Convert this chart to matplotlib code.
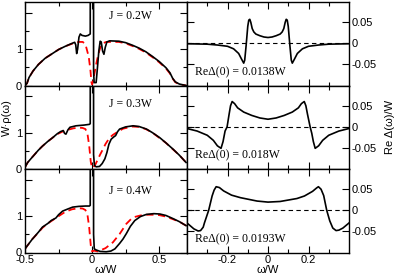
import matplotlib
matplotlib.use("Agg")
import matplotlib.pyplot as plt
from matplotlib.ticker import FixedLocator

plt.rcParams["font.family"] = ["Liberation Sans", "DejaVu Sans"]
plt.rcParams["font.size"] = 8

# ---- left column: W*rho(omega), black = full, red dashed = reference ----
w_a_k = [-0.5, -0.485, -0.47, -0.44, -0.4, -0.35, -0.3, -0.25, -0.2, -0.15, -0.13, -0.122, -0.115,
         -0.108, -0.098, -0.088, -0.075, -0.05, -0.03, -0.014, -0.008, 0.008, 0.011, 0.015, 0.03,
         0.04, 0.05, 0.06, 0.068, 0.078, 0.088, 0.098, 0.11, 0.13, 0.2, 0.25, 0.3, 0.35, 0.4, 0.45,
         0.5, 0.55, 0.58, 0.6, 0.62, 0.65, 0.7]
rho_a_k = [0.0, 0.06, 0.22, 0.4, 0.58, 0.75, 0.87, 0.99, 1.08, 1.16, 1.19, 1.12, 0.88,
           1.0, 1.33, 1.42, 1.38, 1.36, 1.38, 1.42, 30, 30, 0.4, 0.08, 0.08,
           0.5, 0.95, 1.22, 1.2, 0.95, 0.86, 1.05, 1.2, 1.23, 1.22, 1.18, 1.11, 1.03, 0.93, 0.8,
           0.66, 0.49, 0.35, 0.2, 0.1, 0.04, 0.0]
w_a_r = [-0.5, -0.485, -0.47, -0.44, -0.4, -0.35, -0.3, -0.25, -0.2, -0.15, -0.1, -0.07, -0.05,
         -0.04, -0.025, -0.012, -0.005, 0.0, 0.005, 0.017, 0.03, 0.042, 0.055, 0.067, 0.085, 0.105,
         0.15, 0.2, 0.25, 0.3, 0.35, 0.4, 0.45, 0.5, 0.55, 0.58, 0.6, 0.62, 0.65, 0.7]
rho_a_r = [0.0, 0.06, 0.22, 0.4, 0.58, 0.75, 0.87, 0.99, 1.08, 1.15, 1.2, 1.2, 1.14,
           1.0, 0.79, 0.4, 0.09, 0.03, 0.08, 0.32, 0.58, 0.79, 0.97, 1.11, 1.17, 1.2,
           1.2, 1.2, 1.16, 1.09, 1.01, 0.91, 0.78, 0.64, 0.47, 0.33, 0.19, 0.09, 0.03, 0.0]

w_b_k = [-0.5, -0.48, -0.445, -0.4, -0.37, -0.33, -0.295, -0.26, -0.235, -0.215, -0.205, -0.195,
         -0.18, -0.165, -0.12, -0.06, -0.02, -0.014, -0.008, 0.008, 0.011, 0.017, 0.03, 0.055, 0.075,
         0.095, 0.11, 0.125, 0.142, 0.16, 0.175, 0.19, 0.205, 0.25, 0.305, 0.35, 0.405, 0.45, 0.505,
         0.55, 0.605, 0.65, 0.7]
rho_b_k = [0.05, 0.18, 0.33, 0.52, 0.63, 0.76, 0.86, 0.97, 1.03, 1.06, 0.98, 0.96,
           1.08, 1.15, 1.19, 1.21, 1.23, 1.25, 30, 30, 0.4, 0.1, 0.06, 0.07, 0.15,
           0.28, 0.45, 0.68, 0.82, 0.88, 0.92, 1.03, 1.1, 1.16, 1.19, 1.17, 1.1, 1.0, 0.86,
           0.72, 0.54, 0.38, 0.18]
w_b_r = [-0.5, -0.48, -0.445, -0.4, -0.37, -0.33, -0.295, -0.26, -0.22, -0.18, -0.14, -0.1, -0.07,
         -0.05, -0.035, -0.022, -0.01, 0.0, 0.01, 0.025, 0.042, 0.06, 0.08, 0.1, 0.13, 0.155, 0.18,
         0.23, 0.3, 0.35, 0.4, 0.45, 0.5, 0.55, 0.6, 0.65, 0.7]
rho_b_r = [0.05, 0.18, 0.33, 0.52, 0.63, 0.76, 0.86, 0.96, 1.03, 1.08, 1.12, 1.14, 1.13,
           1.1, 0.98, 0.65, 0.2, 0.03, 0.05, 0.13, 0.26, 0.4, 0.54, 0.69, 0.86, 0.94, 1.0,
           1.11, 1.17, 1.16, 1.1, 1.0, 0.86, 0.72, 0.55, 0.38, 0.18]

w_c_k = [-0.5, -0.48, -0.445, -0.4, -0.37, -0.33, -0.305, -0.285, -0.27, -0.25, -0.22, -0.18,
         -0.145, -0.1, -0.05, -0.02, -0.014, -0.008, 0.008, 0.011, 0.016, 0.03, 0.06, 0.105, 0.14,
         0.17, 0.205, 0.23, 0.255, 0.285, 0.318, 0.36, 0.405, 0.46, 0.505, 0.55, 0.605, 0.65, 0.7]
rho_c_k = [0.1, 0.2, 0.37, 0.56, 0.7, 0.8, 0.88, 0.92, 0.95, 1.04, 1.14, 1.2,
           1.25, 1.27, 1.28, 1.28, 1.3, 30, 30, 0.5, 0.1, 0.07, 0.03, 0.02, 0.04,
           0.1, 0.25, 0.37, 0.52, 0.72, 0.88, 0.99, 1.05, 1.07, 1.06, 1.02, 0.93, 0.85, 0.74]
w_c_r = [-0.5, -0.48, -0.445, -0.4, -0.37, -0.33, -0.29, -0.25, -0.2, -0.15, -0.1, -0.07, -0.05,
         -0.035, -0.022, -0.01, 0.0, 0.015, 0.04, 0.055, 0.1, 0.155, 0.205, 0.255, 0.29, 0.318,
         0.36, 0.4, 0.455, 0.5, 0.55, 0.6, 0.65, 0.7]
rho_c_r = [0.1, 0.2, 0.37, 0.55, 0.68, 0.8, 0.9, 1.0, 1.12, 1.19, 1.22, 1.21, 1.17,
           1.05, 0.7, 0.2, 0.03, 0.05, 0.03, 0.05, 0.12, 0.28, 0.51, 0.79, 0.92, 0.98,
           1.02, 1.04, 1.04, 1.03, 0.99, 0.92, 0.85, 0.74]

# ---- right column: Re Delta(omega)/W ----
w_a_d = [-0.4, -0.3, -0.25, -0.2, -0.17, -0.145, -0.13, -0.12, -0.115, -0.108, -0.1, -0.095,
         -0.09, -0.085, -0.078, -0.07, -0.06, -0.04, -0.02, 0.0, 0.02, 0.04, 0.06, 0.07, 0.078,
         0.085, 0.09, 0.095, 0.1, 0.108, 0.115, 0.12, 0.13, 0.145, 0.17, 0.2, 0.25, 0.3, 0.4]
d_a = [-0.001, -0.002, -0.004, -0.007, -0.013, -0.024, -0.038, -0.047, -0.04, -0.005, 0.04, 0.055,
       0.057, 0.05, 0.035, 0.027, 0.022, 0.018, 0.015, 0.0138, 0.015, 0.018, 0.022, 0.027, 0.035,
       0.05, 0.057, 0.055, 0.04, -0.005, -0.04, -0.047, -0.038, -0.024, -0.013, -0.007, -0.004,
       -0.002, -0.001]

w_b_d = [-0.4, -0.35, -0.3, -0.27, -0.25, -0.232, -0.222, -0.212, -0.202, -0.192, -0.185, -0.177,
         -0.165, -0.15, -0.12, -0.08, -0.04, 0.0, 0.04, 0.08, 0.12, 0.15, 0.165, 0.179, 0.187,
         0.195, 0.208, 0.216, 0.224, 0.233, 0.25, 0.27, 0.3, 0.35, 0.4]
d_b = [-0.004, -0.01, -0.02, -0.032, -0.045, -0.051, -0.035, -0.01, 0.0, 0.03, 0.05, 0.06,
       0.055, 0.045, 0.035, 0.027, 0.021, 0.018, 0.021, 0.027, 0.035, 0.045, 0.055, 0.06, 0.05,
       0.03, 0.0, -0.015, -0.035, -0.051, -0.045, -0.032, -0.02, -0.01, -0.004]

w_c_d = [-0.4, -0.366, -0.345, -0.333, -0.32, -0.314, -0.293, -0.276, -0.266, -0.256, -0.24,
         -0.219, -0.18, -0.136, -0.054, 0.0, 0.06, 0.143, 0.18, 0.22, 0.24, 0.249, 0.262, 0.275,
         0.29, 0.305, 0.32, 0.336, 0.35, 0.37, 0.4]
d_c = [-0.03, -0.044, -0.049, -0.048, -0.04, -0.03, 0.0, 0.034, 0.048, 0.056, 0.054,
       0.046, 0.036, 0.03, 0.022, 0.0195, 0.021, 0.028, 0.034, 0.045, 0.053, 0.056, 0.05, 0.035,
       0.0, -0.025, -0.042, -0.048, -0.047, -0.042, -0.03]

j_labels = ["J = 0.2W", "J = 0.3W", "J = 0.4W"]
d0_labels = ["ReΔ(0) = 0.0138W", "ReΔ(0) = 0.018W", "ReΔ(0) = 0.0193W"]
j_label_y = [0.835, 0.78, 0.735]

dos_rows = [(w_a_k, rho_a_k, w_a_r, rho_a_r),
            (w_b_k, rho_b_k, w_b_r, rho_b_r),
            (w_c_k, rho_c_k, w_c_r, rho_c_r)]
delta_rows = [(w_a_d, d_a), (w_b_d, d_b), (w_c_d, d_c)]

fig = plt.figure(figsize=(3.99, 2.78), dpi=100)
W, H = 399.0, 278.0
row_top = [2.0, 85.5, 169.0]
row_h = 83.5
serif = ["Liberation Serif", "DejaVu Serif"]

for i in range(3):
    y0 = 1 - (row_top[i] + row_h) / H
    axl = fig.add_axes([25 / W, y0, 162 / W, row_h / H])
    axr = fig.add_axes([187 / W, y0, 162 / W, row_h / H])

    wk, rk, wr, rr = dos_rows[i]
    axl.plot(wr, rr, color="red", lw=1.3, dashes=(4, 2.5))
    axl.plot(wk, rk, color="black", lw=1.2)
    axl.set_xlim(-0.5, 0.707)
    axl.set_ylim(0, 2.3)
    axl.xaxis.set_major_locator(FixedLocator([-0.5, 0, 0.5]))
    axl.xaxis.set_minor_locator(FixedLocator([-0.25, 0.25]))
    axl.yaxis.set_major_locator(FixedLocator([0, 1, 2]))
    axl.yaxis.set_minor_locator(FixedLocator([0.5, 1.5]))
    axl.set_yticklabels(["0", "1", ""])
    axl.text(0.65, j_label_y[i], j_labels[i], transform=axl.transAxes,
             ha="center", va="center", fontsize=8.5, family=serif)

    wd, dd = delta_rows[i]
    axr.axhline(0, color="black", lw=0.8, dashes=(4, 3))
    axr.plot(wd, dd, color="black", lw=1.2)
    axr.set_xlim(-0.4, 0.4)
    axr.set_ylim(-0.1, 0.098)
    axr.xaxis.set_major_locator(FixedLocator([-0.2, 0, 0.2]))
    axr.xaxis.set_minor_locator(FixedLocator([-0.3, -0.1, 0.1, 0.3]))
    axr.yaxis.set_major_locator(FixedLocator([-0.05, 0, 0.05]))
    axr.yaxis.tick_right()
    axr.set_yticklabels(["-0.05", "0", "0.05"])
    axr.text(0.05, 0.16, d0_labels[i], transform=axr.transAxes,
             ha="left", va="center", fontsize=8.5, family=serif)

    for ax in (axl, axr):
        ax.tick_params(which="both", direction="in", top=True, bottom=True,
                       left=True, right=True, labelsize=8, pad=2)
        ax.tick_params(which="major", length=5, width=0.8)
        ax.tick_params(which="minor", length=3, width=0.8)
        for s in ax.spines.values():
            s.set_linewidth(1.0)
    if i < 2:
        axl.tick_params(labelbottom=False)
        axr.tick_params(labelbottom=False)
    else:
        axl.set_xticklabels(["-0.5", "0", "0.5"])
        axl.set_xlabel("ω/W", labelpad=0)
        axr.set_xticklabels(["-0.2", "0", "0.2"])
        axr.set_xlabel("ω/W", labelpad=0)

fig.text(7 / W, 1 - 118 / H, "W·ρ(ω)", rotation=90, ha="center", va="center")
fig.text(390 / W, 1 - 127 / H, "Re Δ(ω)/W", rotation=90, ha="center", va="center")

fig.savefig("out.png", dpi=100)
